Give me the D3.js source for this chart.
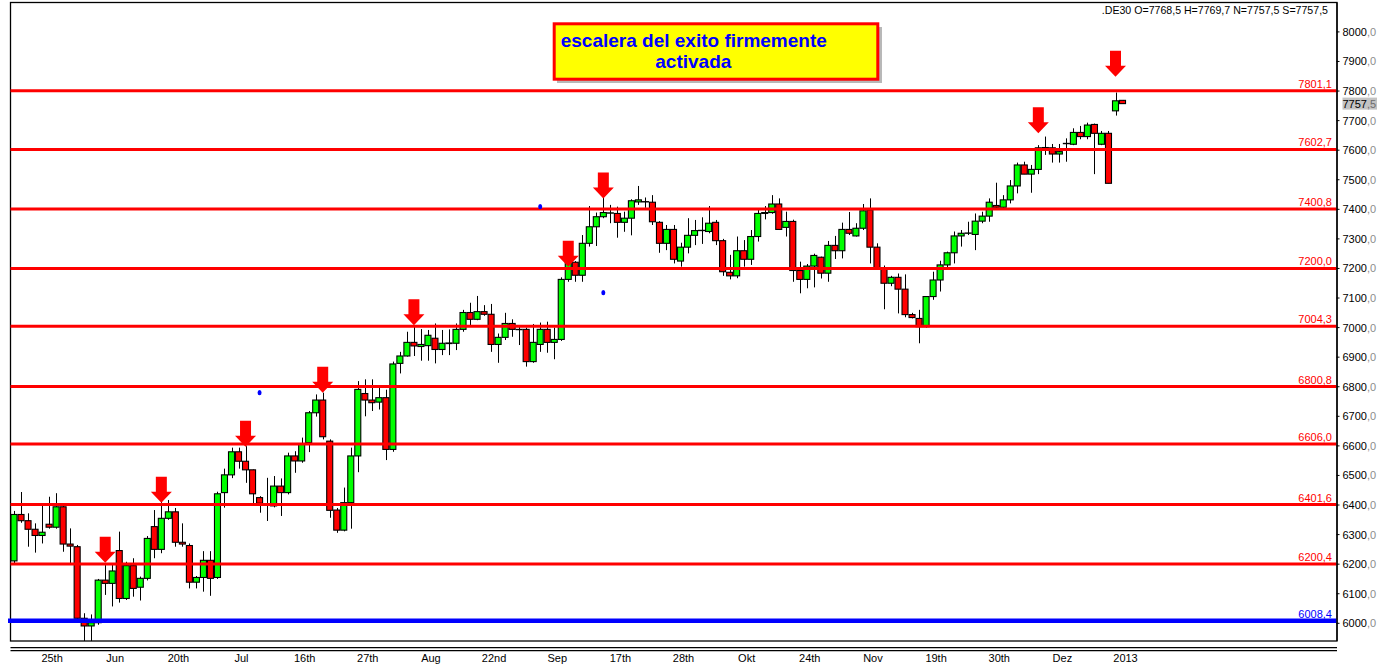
<!DOCTYPE html>
<html>
<head>
<meta charset="utf-8">
<script src="https://cdn.jsdelivr.net/npm/d3@7"></script>
<style>
  html, body { margin: 0; padding: 0; background: #fff; }
  svg { display: block; font-family: "Liberation Sans", Arial, sans-serif; }
</style>
</head>
<body>
<div id="chart"></div>
<script>
// daily candles .DE30, one entry per bar (bar index = position in the arrays)
const opens = [6211,6368,6347,6318,6297,6335,6325,6394,6268,6259,6017,5991,6002,6146,6135,6246,6084,6195,6122,6152,
  6327,6250,6355,6377,6274,6263,6139,6155,6213,6155,6442,6502,6580,6548,6519,6425,6400,6397,6464,6442,
  6566,6549,6611,6712,6755,6616,6383,6315,6408,6566,6777,6755,6748,6763,6588,6879,6904,6950,6936,6939,
  6964,6926,6946,6947,6994,7051,7028,7054,7045,6943,6967,7014,6994,6994,6885,6943,6994,6950,6960,7163,
  7221,7177,7285,7341,7375,7387,7386,7356,7370,7425,7426,7424,7356,7285,7332,7225,7272,7312,7328,7325,
  7356,7294,7187,7175,7260,7231,7308,7386,7389,7418,7339,7359,7193,7163,7208,7238,7184,7278,7260,7332,
  7310,7336,7398,7272,7200,7150,7170,7130,7044,7031,7003,7105,7161,7212,7253,7310,7319,7315,7360,7377,
  7413,7407,7432,7479,7550,7519,7535,7608,7608,7587,7622,7620,7660,7646,7687,7620,7657,7733,7768.5];
const highs = [6380,6444,6372,6338,6406,6428,6440,6400,6321,6265,6034,6030,6150,6197,6203,6310,6208,6220,6158,6295,
  6383,6411,6417,6390,6338,6270,6160,6244,6244,6445,6523,6594,6594,6599,6520,6430,6492,6498,6490,6577,
  6582,6628,6718,6774,6780,6622,6390,6459,6594,6819,6825,6825,6800,6790,6885,6918,6986,7008,6995,6992,
  7014,6992,6994,7014,7060,7084,7107,7076,7080,6980,7050,7028,7003,7000,7012,7017,7020,7000,7170,7240,
  7225,7313,7411,7389,7443,7415,7409,7392,7434,7479,7440,7448,7360,7347,7347,7287,7370,7364,7373,7411,
  7364,7300,7246,7308,7296,7330,7403,7411,7448,7437,7392,7365,7223,7215,7250,7240,7293,7310,7355,7391,
  7353,7418,7437,7285,7210,7175,7183,7180,7050,7060,7105,7189,7226,7257,7325,7330,7358,7386,7392,7437,
  7490,7448,7499,7558,7561,7550,7617,7646,7621,7621,7640,7674,7682,7693,7690,7665,7665,7795,7769.7];
const lows = [6200,6340,6259,6239,6270,6320,6320,6242,6203,6010,5940,5940,5995,6096,6057,6070,6079,6090,6077,6145,
  6220,6237,6350,6259,6259,6118,6118,6107,6093,6150,6391,6491,6523,6475,6406,6374,6346,6392,6363,6436,
  6509,6543,6579,6699,6622,6357,6306,6311,6320,6511,6700,6718,6723,6552,6580,6845,6902,6904,6888,6888,
  6879,6907,6907,6924,6986,7003,7025,7040,6918,6881,6958,6969,6941,6868,6881,6918,6915,6893,6955,7155,
  7155,7155,7274,7276,7370,7353,7304,7324,7312,7415,7405,7347,7253,7262,7217,7206,7251,7279,7283,7319,
  7279,7175,7163,7167,7206,7212,7291,7366,7385,7330,7308,7155,7116,7133,7136,7166,7155,7232,7234,7313,
  7308,7330,7217,7195,7062,7140,7048,7035,7031,6947,7000,7094,7122,7200,7217,7274,7313,7262,7353,7358,
  7403,7403,7420,7454,7519,7456,7519,7584,7558,7558,7561,7617,7637,7637,7519,7617,7488,7717,7757.5];
const closes = [6368,6347,6318,6297,6308,6325,6394,6268,6261,6017,5991,6002,6146,6135,6177,6084,6195,6118,6152,6287,
  6250,6355,6377,6274,6268,6139,6155,6213,6152,6438,6502,6580,6548,6519,6438,6406,6401,6464,6442,6566,
  6549,6605,6712,6755,6631,6382,6315,6408,6566,6791,6755,6746,6763,6588,6877,6904,6950,6938,6943,6974,
  6926,6947,6948,6994,7051,7028,7054,7045,6943,6967,7014,6994,6993,6885,6950,6994,6950,6960,7163,7221,
  7177,7285,7341,7375,7389,7388,7356,7370,7429,7432,7425,7358,7285,7332,7231,7272,7312,7328,7329,7353,
  7294,7189,7175,7260,7231,7308,7386,7389,7418,7332,7359,7193,7163,7208,7244,7184,7278,7260,7332,7319,
  7336,7395,7272,7200,7150,7170,7130,7044,7034,7003,7105,7161,7212,7253,7310,7319,7320,7360,7377,7424,
  7407,7432,7479,7550,7519,7535,7608,7609,7587,7595,7623,7660,7646,7685,7657,7657,7488,7767,7757.5];

// x axis: labels and the bar they sit under
const tickIdx = [5,14,23,32,41,50,59,68,77,86,95,104,113,122,131,140,149,158];
const tickLabels = ['25th','Jun','20th','Jul','16th','27th','Aug','22nd','Sep','17th','28th','Okt','24th','Nov','19th','30th','Dez','2013'];
const yTicks = [6000,6100,6200,6300,6400,6500,6600,6700,6800,6900,7000,7100,7200,7300,7400,7500,7600,7700,7800,7900,8000];

// drawn levels
const redLevels = [7801.1,7602.7,7400.8,7200.0,7004.3,6800.8,6606.0,6401.6,6200.4];
const blueLevel = 6008.4;

// red arrows (bar, tip price) and small blue marks (bar, price)
const arrowIdx = [13,21,33,44,57,79,84,146,157];
const arrowTips = [6205,6408,6597,6780,7008,7206,7437,7657,7848];
const dotIdx = [35,75,84];
const dotVals = [6780,7409,7118];

const lastPrice = 7757.5;
const infoText = '.DE30 O=7768,5 H=7769,7 N=7757,5 S=7757,5';
const titleLines = ['escalera del exito firmemente', 'activada'];
const slots = 189;

const W = 1377, H = 666;
const plot = { left: 10.5, right: 1336.5, top: 2.5, bottom: 641 };

const svg = d3.select('#chart').append('svg')
  .attr('width', W).attr('height', H);

const x = d3.scaleBand()
  .domain(d3.range(slots))
  .range([plot.left, plot.right])
  .padding(0);
const step = x.bandwidth();
const cx = i => x(i) + step / 2;

const y = d3.scaleLinear()
  .domain([6000, 8000])
  .range([623.3, 31.9]);

const fmt = v => v.toFixed(1).replace('.', ',');

svg.append('clipPath').attr('id', 'clip')
  .append('rect')
  .attr('x', plot.left).attr('y', plot.top)
  .attr('width', plot.right - plot.left).attr('height', plot.bottom - plot.top);

// frame + double line under the plot
svg.append('rect')
  .attr('x', plot.left).attr('y', plot.top)
  .attr('width', plot.right - plot.left + 0.5).attr('height', plot.bottom - plot.top)
  .attr('fill', 'none').attr('stroke', '#000').attr('stroke-width', 1.3);
[647.7, 650.7].forEach(yy => {
  svg.append('line')
    .attr('x1', plot.left).attr('x2', plot.right + 0.5)
    .attr('y1', yy).attr('y2', yy)
    .attr('stroke', '#000').attr('stroke-width', 1.2);
});

const g = svg.append('g').attr('clip-path', 'url(#clip)');

const bars = opens.map((o, i) => ({ i, o, h: highs[i], l: lows[i], c: closes[i] }));

// wicks
g.selectAll('.wick').data(bars).enter().append('line')
  .attr('class', 'wick')
  .attr('x1', d => Math.round(cx(d.i)) + 0.5).attr('x2', d => Math.round(cx(d.i)) + 0.5)
  .attr('y1', d => y(d.h)).attr('y2', d => y(d.l))
  .attr('stroke', '#000').attr('stroke-width', 1);

// bodies
g.selectAll('.body').data(bars).enter().append('rect')
  .attr('class', 'body')
  .attr('x', d => x(d.i) + 0.5)
  .attr('width', step - 1)
  .attr('y', d => y(Math.max(d.o, d.c)))
  .attr('height', d => Math.abs(y(d.o) - y(d.c)))
  .attr('fill', d => d.c >= d.o ? '#00ff00' : '#ff0000')
  .attr('stroke', '#000').attr('stroke-width', 1.1);

// level lines
svg.selectAll('.lvl').data(redLevels).enter().append('line')
  .attr('class', 'lvl')
  .attr('x1', plot.left).attr('x2', plot.right)
  .attr('y1', d => y(d)).attr('y2', d => y(d))
  .attr('stroke', '#ff0000').attr('stroke-width', 3);
svg.append('line')
  .attr('x1', 8).attr('x2', plot.right)
  .attr('y1', y(blueLevel)).attr('y2', y(blueLevel))
  .attr('stroke', '#0000ff').attr('stroke-width', 4.5);

svg.selectAll('.lvlLabel').data(redLevels).enter().append('text')
  .attr('x', 1332).attr('y', d => y(d) - 3)
  .attr('text-anchor', 'end')
  .attr('font-size', 11).attr('fill', '#ff0000')
  .text(fmt);
svg.append('text')
  .attr('x', 1332).attr('y', y(blueLevel) - 3)
  .attr('text-anchor', 'end')
  .attr('font-size', 11).attr('fill', '#0000ff')
  .text(fmt(blueLevel));

// blue marks
svg.selectAll('.dot').data(dotIdx).enter().append('ellipse')
  .attr('cx', d => cx(d)).attr('cy', (d, k) => y(dotVals[k]))
  .attr('rx', 2).attr('ry', 2.6)
  .attr('fill', '#0000ff');

// arrows
const arrowPath = (px, py) => {
  const sw = 5.5, sh = 15, hw = 10.5, hh = 11;
  return `M${px},${py} L${px - hw},${py - hh} L${px - sw},${py - hh} L${px - sw},${py - hh - sh}` +
    ` L${px + sw},${py - hh - sh} L${px + sw},${py - hh} L${px + hw},${py - hh} Z`;
};
svg.selectAll('.arrow').data(arrowIdx).enter().append('path')
  .attr('d', (d, k) => arrowPath(cx(d), y(arrowTips[k])))
  .attr('fill', '#ff0000');

// right axis
svg.append('line')
  .attr('x1', plot.right + 0.5).attr('x2', plot.right + 0.5)
  .attr('y1', plot.top).attr('y2', plot.bottom)
  .attr('stroke', '#000').attr('stroke-width', 1.3);

const yLab = svg.selectAll('.ylab').data(yTicks).enter().append('text')
  .attr('x', 1342.5).attr('y', d => y(d))
  .attr('dy', '0.36em')
  .attr('font-size', 11).attr('fill', '#000');
yLab.append('tspan').text(d => String(d));
yLab.append('tspan').attr('fill', '#8c8c8c').text(',0');

svg.selectAll('.ytick').data(yTicks).enter().append('line')
  .attr('x1', plot.right).attr('x2', plot.right + 3)
  .attr('y1', d => y(d)).attr('y2', d => y(d))
  .attr('stroke', '#000');

// last price box
svg.append('rect')
  .attr('x', 1342.5).attr('y', y(lastPrice) - 6)
  .attr('width', 36).attr('height', 12)
  .attr('fill', '#c3c3c3');
const lp = svg.append('text')
  .attr('x', 1342.5).attr('y', y(lastPrice))
  .attr('dy', '0.36em').attr('font-size', 11);
lp.append('tspan').attr('fill', '#000').text(fmt(lastPrice).split(',')[0]);
lp.append('tspan').attr('fill', '#6e6e6e').text(',' + fmt(lastPrice).split(',')[1]);

// x labels
svg.selectAll('.xlab').data(tickIdx).enter().append('text')
  .attr('x', d => cx(d) + 3).attr('y', 662)
  .attr('text-anchor', 'middle')
  .attr('font-size', 11).attr('fill', '#000')
  .text((d, k) => tickLabels[k]);

// info line top right
svg.append('text')
  .attr('x', 1328).attr('y', 14)
  .attr('text-anchor', 'end')
  .attr('font-size', 10.6).attr('fill', '#000')
  .text(infoText);

// title box
svg.append('rect')
  .attr('x', 557).attr('y', 27).attr('width', 325).attr('height', 56)
  .attr('fill', '#9a9a9a').attr('opacity', 0.7);
svg.append('rect')
  .attr('x', 554.2).attr('y', 23.8).attr('width', 323.6).attr('height', 55.4)
  .attr('fill', '#ffff00').attr('stroke', '#ff0000').attr('stroke-width', 3);
svg.append('text')
  .attr('x', 560.7).attr('y', 46.7)
  .attr('font-size', 19).attr('font-weight', 'bold').attr('fill', '#0000ff')
  .text(titleLines[0]);
svg.append('text')
  .attr('x', 693.3).attr('y', 68.3)
  .attr('text-anchor', 'middle')
  .attr('font-size', 19).attr('font-weight', 'bold').attr('fill', '#0000ff')
  .text(titleLines[1]);
</script>
</body>
</html>
